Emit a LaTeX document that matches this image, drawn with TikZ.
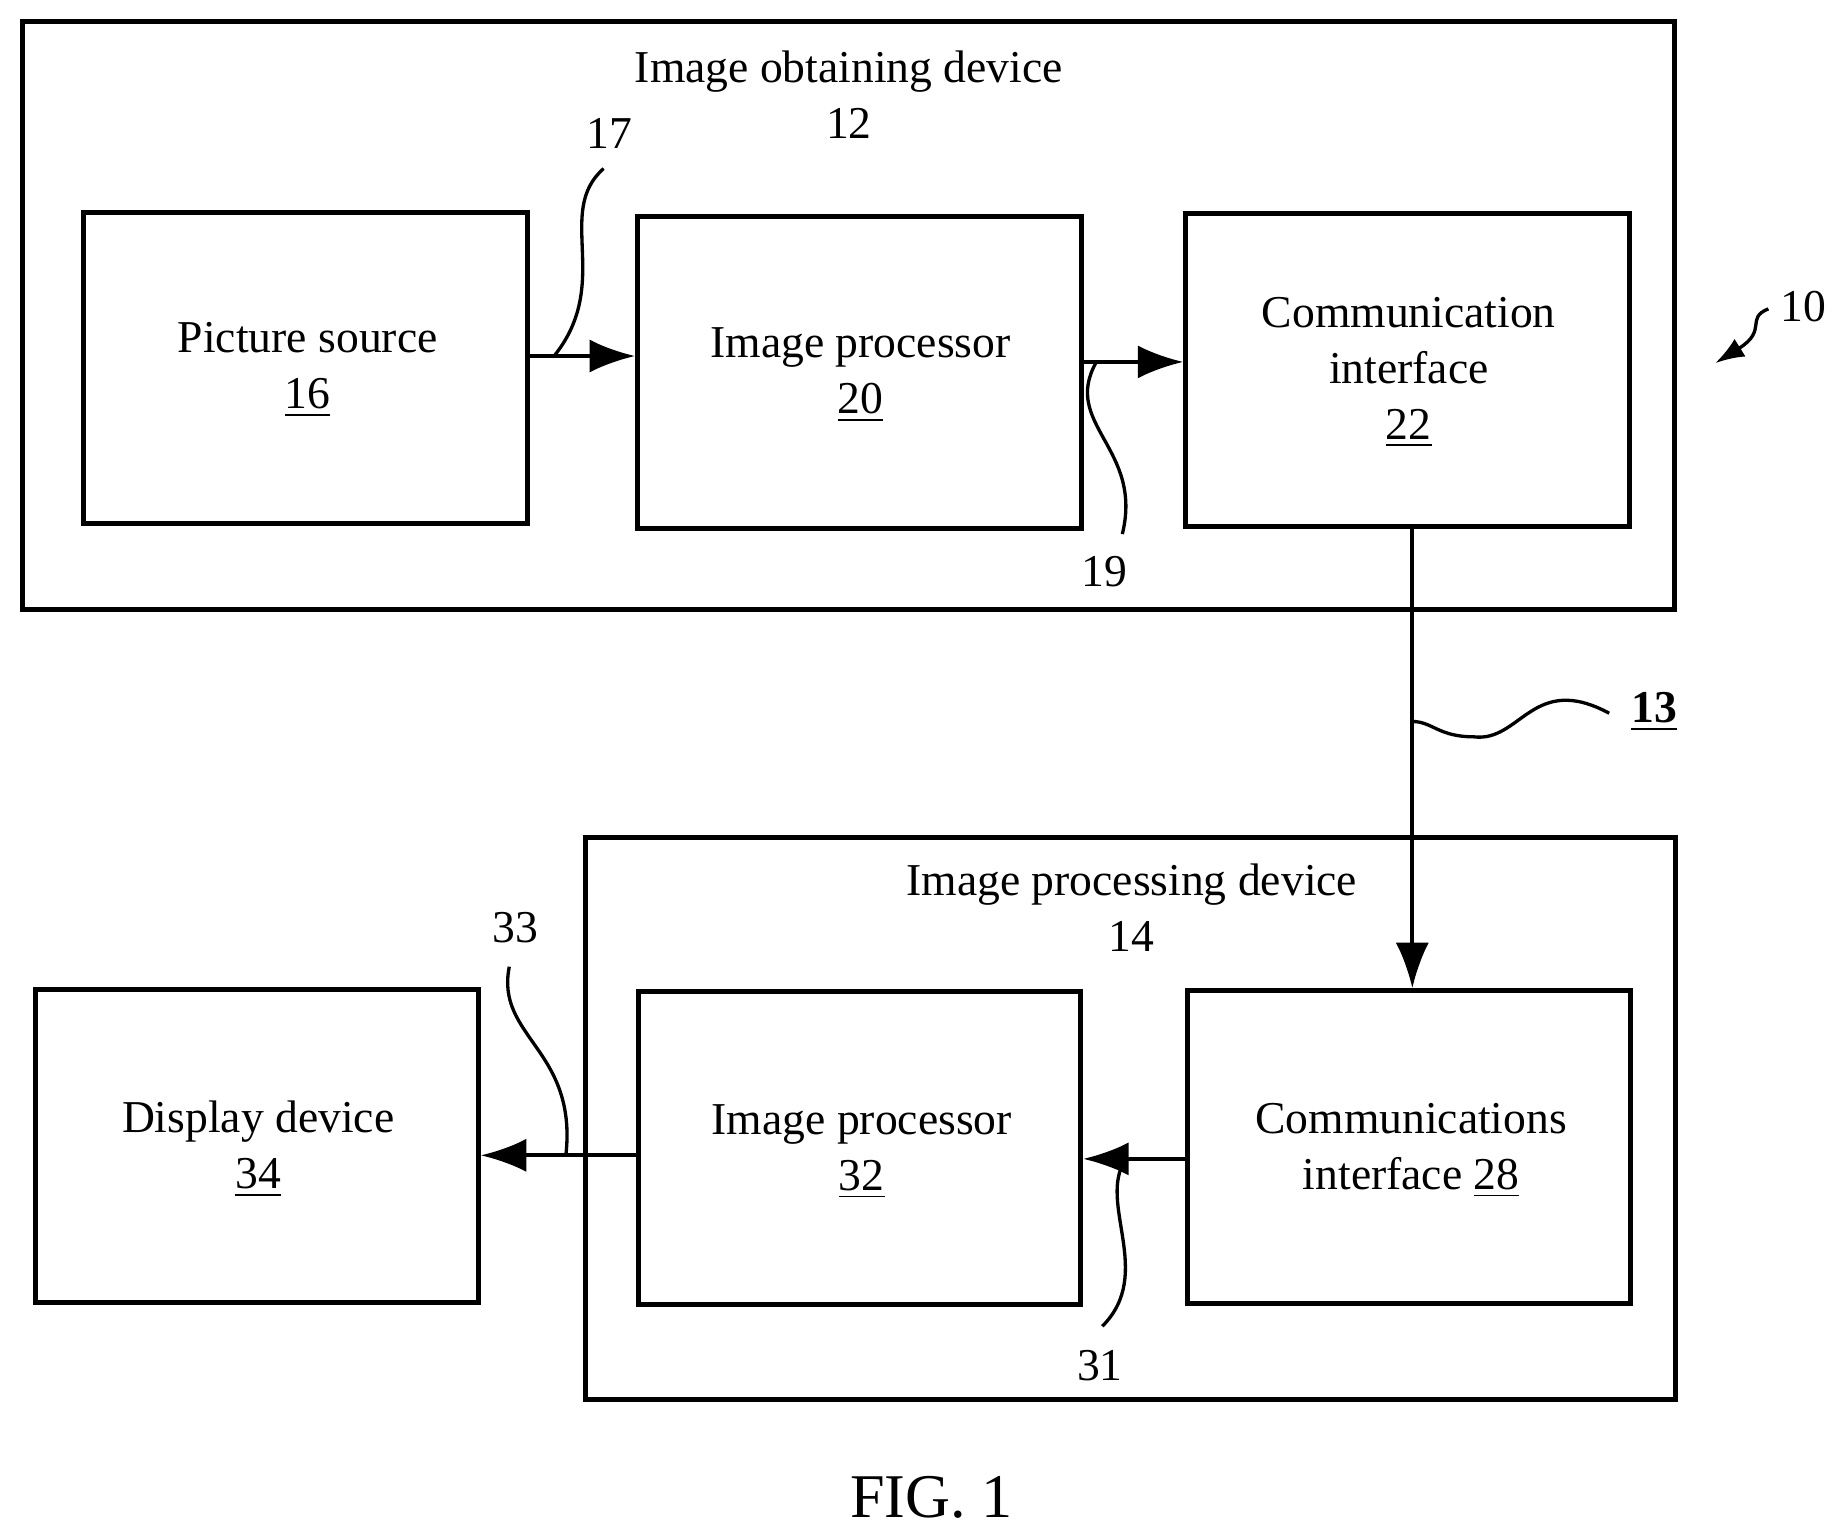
\documentclass[tikz,border=0pt]{standalone}
\usepackage{fontspec}
\setmainfont{Liberation Serif}
\usetikzlibrary{arrows.meta}
\begin{document}
\begin{tikzpicture}[x=0.01cm,y=-0.01cm,line width=1pt,>={Latex[length=11pt,width=8pt]}]
      \tikzstyle{box}=[draw=black,line width=1.2pt];
      \tikzstyle{lbl}=[font=\fontsize{11}{13.5}\selectfont,align=center];
      \tikzstyle{lead}=[line width=0.8pt];

      \useasboundingbox (0,0) rectangle (1565,1300);

      % outer devices
      \draw[box] (19,18) rectangle (1420,517);
      \draw[box] (497,710) rectangle (1421,1187);
      \node[lbl](T12) at (720,80) {Image obtaining device\\12};
      \node[lbl](T14) at (960,770) {Image processing device\\14};

      % inner blocks
      \node[box,minimum width=3.76cm,minimum height=2.64cm](S16) at (259,312) {};
      \node[box,minimum width=3.76cm,minimum height=2.65cm](P20) at (729,316) {};
      \node[box,minimum width=3.76cm,minimum height=2.65cm](C22) at (1194,314) {};
      \node[box,minimum width=3.75cm,minimum height=2.65cm](D34) at (218,972) {};
      \node[box,minimum width=3.75cm,minimum height=2.65cm](P32) at (729,974) {};
      \node[box,minimum width=3.76cm,minimum height=2.65cm](C28) at (1195,973) {};

      \node[lbl] at (261,314) {Picture source\\\underline{16}};
      \node[lbl] at (730,318) {Image processor\\\underline{20}};
      \node[lbl] at (1195,316) {Communication\\interface\\\underline{22}};
      \node[lbl] at (219,975) {Display device\\\underline{34}};
      \node[lbl] at (731,977) {Image processor\\\underline{32}};
      \node[lbl] at (1197,976) {Communications\\interface \underline{28}};

      % connections
      \draw[->] (S16.east |- 0,302) -- (P20.west |- 0,302);
      \draw[->] (P20.east |- 0,307) -- (C22.west |- 0,307);
      \draw[->] (C22.south -| 1198,0) -- (C28.north -| 1198,0);
      \draw[->] (C28.west |- 0,983) -- (P32.east |- 0,983);
      \draw[->] (P32.west |- 0,980) -- (D34.east |- 0,980);

      % reference numerals
      \node[lbl](N17) at (517,113) {17};
      \node[lbl](N19) at (937,485) {19};
      \node[lbl](N13) at (1403,604) {\textbf{\underline{13}}};
      \node[lbl](N10) at (1530,260) {10};
      \node[lbl](N33) at (437,787) {33};
      \node[lbl](N31) at (933,1158) {31};
      \node[lbl](FIG) at (790,1270) {\fontsize{15}{18}\selectfont FIG. 1};

      \coordinate (e17) at (470,302);
      \coordinate (e19) at (930,307);
      \coordinate (e13) at (1198,612);
      \coordinate (e33) at (480,980);
      \coordinate (e31) at (955,983);
      \coordinate (e10) at (1455,308);

      \draw[lead] (512,143) .. controls (470,180) and (520,240) .. (e17);
      \draw[lead] (952,453) .. controls (970,380) and (900,360) .. (e19);
      \draw[lead] (1365,605) .. controls (1300,570) and (1290,630) .. (1250,625) .. controls (1220,625) and (1215,612) .. (e13);
      \draw[lead] (432,820) .. controls (420,880) and (490,890) .. (e33);
      \draw[lead] (935,1125) .. controls (980,1080) and (930,1020) .. (e31);
      \draw[lead,->,>={Latex[length=7pt,width=5pt]}] (1500,262) .. controls (1480,270) and (1500,280) .. (e10);

    \end{tikzpicture}
\end{document}
